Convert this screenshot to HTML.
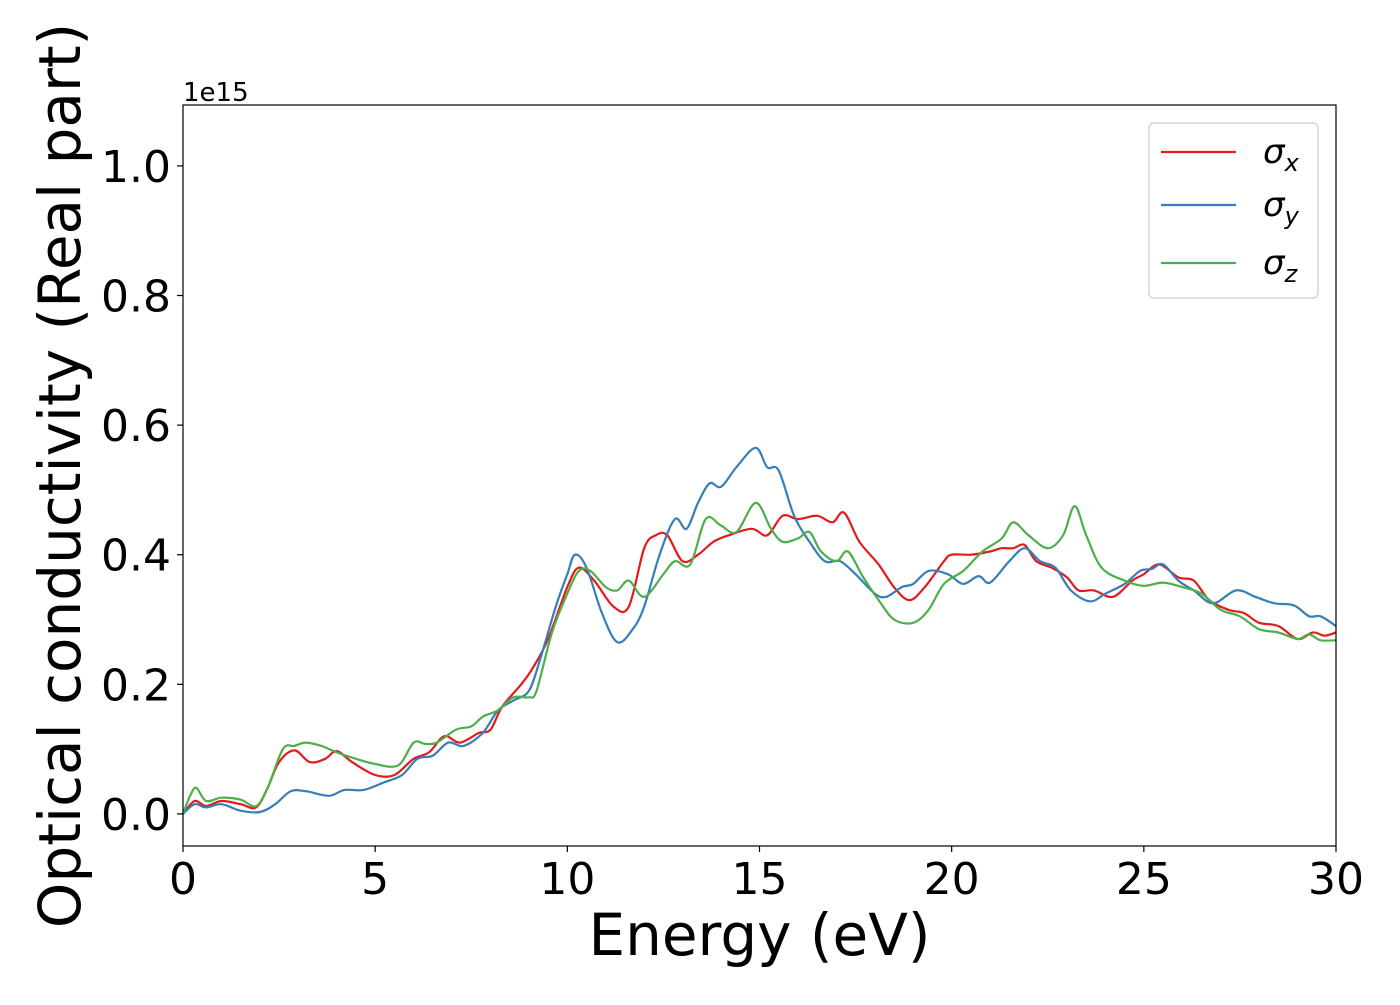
<!DOCTYPE html>
<html><head><meta charset="utf-8"><style>
html,body{margin:0;padding:0;background:#fff;}
svg text{font-family:"DejaVu Sans","Liberation Sans",sans-serif;}
</style></head><body>
<svg id="chart" width="1400" height="1000" viewBox="0 0 1400 1000" xmlns="http://www.w3.org/2000/svg">
<rect x="0" y="0" width="1400" height="1000" fill="#fff"/>
<g id="series"></g>
<g id="axes"></g>
</svg>
<script>
const energyX = [0,0.3,0.6,1.0,1.5,1.9,2.2,2.5,2.9,3.3,3.7,4.0,4.4,5.0,5.5,6.0,6.4,6.8,7.2,7.7,8.0,8.3,8.8,9.1,9.5,10.0,10.3,10.7,11.2,11.6,12.0,12.3,12.6,13.0,13.4,13.8,14.2,14.8,15.2,15.6,16.0,16.5,16.9,17.2,17.6,18.1,18.5,18.9,19.3,19.8,20.0,20.5,21.0,21.3,21.6,21.9,22.2,22.6,23.0,23.3,23.7,24.2,24.7,25.0,25.4,25.9,26.3,26.7,27.2,27.6,28.0,28.5,29.0,29.4,29.7,30];
const sigmaX = [0,0.02,0.012,0.02,0.015,0.01,0.04,0.08,0.098,0.08,0.085,0.097,0.08,0.06,0.06,0.085,0.095,0.12,0.11,0.125,0.13,0.165,0.2,0.225,0.27,0.35,0.38,0.36,0.32,0.32,0.41,0.43,0.43,0.39,0.40,0.42,0.43,0.44,0.43,0.46,0.455,0.46,0.45,0.465,0.42,0.385,0.35,0.33,0.35,0.39,0.40,0.40,0.405,0.41,0.41,0.415,0.39,0.38,0.365,0.345,0.345,0.335,0.36,0.37,0.385,0.365,0.36,0.33,0.315,0.31,0.295,0.29,0.27,0.28,0.275,0.28];
const energyY = [0,0.3,0.6,1.0,1.5,2.0,2.4,2.8,3.2,3.8,4.2,4.7,5.2,5.7,6.1,6.5,6.9,7.3,7.8,8.2,8.6,9.0,9.3,9.7,10.0,10.2,10.5,10.9,11.3,11.7,12.0,12.4,12.8,13.1,13.4,13.7,14.0,14.4,14.9,15.2,15.5,15.9,16.3,16.7,17.1,17.5,18.0,18.3,18.7,19.0,19.4,19.9,20.3,20.7,21.0,21.5,21.9,22.3,22.7,23.1,23.6,24.0,24.5,24.9,25.2,25.5,25.9,26.3,26.8,27.4,27.9,28.4,28.9,29.3,29.6,30];
const sigmaY = [0,0.015,0.01,0.015,0.005,0.003,0.015,0.035,0.035,0.028,0.037,0.037,0.048,0.06,0.085,0.09,0.11,0.105,0.125,0.16,0.175,0.19,0.24,0.32,0.37,0.4,0.38,0.31,0.265,0.285,0.32,0.4,0.455,0.44,0.48,0.51,0.505,0.535,0.565,0.535,0.53,0.46,0.42,0.39,0.39,0.37,0.34,0.335,0.35,0.355,0.375,0.37,0.355,0.367,0.357,0.39,0.41,0.39,0.38,0.345,0.328,0.34,0.355,0.375,0.378,0.385,0.36,0.345,0.325,0.345,0.335,0.325,0.322,0.305,0.305,0.29];
const energyZ = [0,0.2,0.35,0.6,1.0,1.5,1.9,2.2,2.6,2.9,3.2,3.6,4.0,4.5,5.0,5.6,6.0,6.3,6.6,7.1,7.5,7.8,8.2,8.6,9.0,9.2,9.6,10.0,10.3,10.6,11.0,11.3,11.6,12.0,12.5,12.8,13.2,13.6,14.0,14.4,14.9,15.3,15.6,16.0,16.3,16.6,17.0,17.3,17.7,18.1,18.5,19.0,19.4,19.8,20.3,20.8,21.3,21.6,22.0,22.5,22.9,23.2,23.5,23.9,24.5,25.0,25.5,26.0,26.5,27.0,27.5,28.0,28.5,29.0,29.3,29.6,30];
const sigmaZ = [0,0.03,0.04,0.02,0.025,0.022,0.012,0.04,0.1,0.105,0.11,0.105,0.095,0.085,0.077,0.075,0.11,0.108,0.11,0.13,0.135,0.15,0.16,0.18,0.18,0.19,0.28,0.34,0.375,0.375,0.35,0.345,0.36,0.335,0.37,0.39,0.385,0.455,0.445,0.435,0.48,0.44,0.42,0.425,0.435,0.405,0.39,0.405,0.365,0.33,0.3,0.295,0.315,0.355,0.375,0.405,0.425,0.45,0.43,0.41,0.43,0.475,0.43,0.38,0.36,0.352,0.357,0.35,0.34,0.315,0.305,0.285,0.28,0.27,0.277,0.268,0.268];
const xTicks = [0,5,10,15,20,25,30];
const yTicks = [0.0,0.2,0.4,0.6,0.8,1.0];
const yTickLabels = ["0.0","0.2","0.4","0.6","0.8","1.0"];
const seriesColors = ["#e41a1c","#377eb8","#4daf4a"];
const seriesNames = ["x","y","z"];

const L=183,R=1336,T=105,B=846;
const xMin=0,xMax=30,yMin=-0.0495,yMax=1.094;
function sx(v){return L+(v-xMin)/(xMax-xMin)*(R-L);}
function sy(v){return B-(v-yMin)/(yMax-yMin)*(B-T);}
const NS="http://www.w3.org/2000/svg";
function mk(tag,attrs,parent){const e=document.createElementNS(NS,tag);for(const k in attrs)e.setAttribute(k,attrs[k]);parent.appendChild(e);return e;}

function smoothPath(xs,ys){
  const p=xs.map((x,i)=>[sx(x),sy(ys[i])]);
  let d="M"+p[0][0].toFixed(1)+","+p[0][1].toFixed(1);
  for(let i=0;i<p.length-1;i++){
    const p0=p[i-1]||p[i],p1=p[i],p2=p[i+1],p3=p[i+2]||p[i+1];
    const c1=[p1[0]+(p2[0]-p0[0])/6,p1[1]+(p2[1]-p0[1])/6];
    const c2=[p2[0]-(p3[0]-p1[0])/6,p2[1]-(p3[1]-p1[1])/6];
    d+=" C"+c1[0].toFixed(1)+","+c1[1].toFixed(1)+" "+c2[0].toFixed(1)+","+c2[1].toFixed(1)+" "+p2[0].toFixed(1)+","+p2[1].toFixed(1);
  }
  return d;
}
const sg=document.getElementById("series");
const clip=mk("clipPath",{id:"plotclip"},sg);
mk("rect",{x:L,y:T,width:R-L,height:B-T},clip);
const allX=[energyX,energyY,energyZ],allY=[sigmaX,sigmaY,sigmaZ];
for(let s=0;s<3;s++){
  const path=mk("path",{d:smoothPath(allX[s],allY[s]),fill:"none",stroke:seriesColors[s],"stroke-width":"2.2","clip-path":"url(#plotclip)"},sg);
  
  
}
const ag=document.getElementById("axes");
const frame=mk("rect",{x:L,y:T,width:R-L,height:B-T,fill:"none",stroke:"#000","stroke-width":"1.2"},ag);


xTicks.forEach(t=>{
  const x=sx(t);
  const tk=mk("line",{x1:x,x2:x,y1:B,y2:B+6,stroke:"#000","stroke-width":"1.2"},ag);
  
  
  const tx=mk("text",{x:x,y:B+48,"font-size":"44","text-anchor":"middle",fill:"#000"},ag);
  tx.textContent=String(t);
  
  
});
yTicks.forEach((t,i)=>{
  const y=sy(t);
  const tk=mk("line",{x1:L-6,x2:L,y1:y,y2:y,stroke:"#000","stroke-width":"1.2"},ag);
  
  
  const tx=mk("text",{x:L-12,y:y+16,"font-size":"44","text-anchor":"end",fill:"#000"},ag);
  tx.textContent=yTickLabels[i];
  
  
});
const off=mk("text",{x:L,y:T-4,"font-size":"26",fill:"#000"},ag);
off.textContent="1e15";


const xl=mk("text",{x:(L+R)/2,y:955,"font-size":"58","text-anchor":"middle",fill:"#000"},ag);
xl.textContent="Energy (eV)";


const yl=mk("text",{x:0,y:0,"font-size":"58","text-anchor":"middle",fill:"#000",transform:"translate(80,"+((T+B)/2)+") rotate(-90)"},ag);
yl.textContent="Optical conductivity (Real part)";


// legend
const lg=mk("g",{},ag);


mk("rect",{x:1149,y:123,width:169,height:175,rx:5,fill:"#fff","fill-opacity":"0.8",stroke:"#ccc","stroke-width":"1.2"},lg);
const ly=[152,205,263];
for(let s=0;s<3;s++){
  const ln=mk("line",{x1:1161,x2:1236,y1:ly[s],y2:ly[s],stroke:seriesColors[s],"stroke-width":"2.2"},lg);
  
  
  const tx=mk("text",{x:1263,y:ly[s]+11,"font-size":"34","font-style":"italic",fill:"#000"},lg);
  tx.textContent="σ";
  const sub=mk("tspan",{"font-size":"24",dy:"8"},tx);
  sub.textContent=seriesNames[s];
  
  
}
</script>
</body></html>
